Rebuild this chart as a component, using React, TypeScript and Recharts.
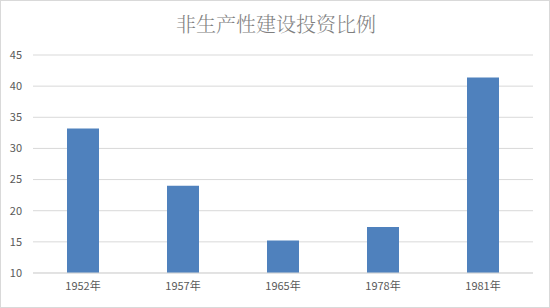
import React from "react";
import { BarChart, Bar, XAxis, YAxis, CartesianGrid } from "recharts";

const categories = ["1952年", "1957年", "1965年", "1978年", "1981年"];
const values = [33.2, 24.0, 15.2, 17.4, 41.4];
const yTicks = [10, 15, 20, 25, 30, 35, 40, 45];
const title = "非生产性建设投资比例";

const data = categories.map((c, i) => ({ name: c, value: values[i] }));

export default function App() {
  return (
    <div
      style={{
        position: "absolute",
        left: 0,
        top: 0,
        width: 550,
        height: 308,
        boxSizing: "border-box",
        border: "1px solid #d9d9d9",
        background: "#fff",
        fontFamily: "'Noto Sans CJK SC', 'Noto Sans', sans-serif",
      }}
    >
      <div
        style={{
          position: "absolute",
          left: 0,
          top: 9,
          width: 550,
          textAlign: "center",
          fontSize: 20,
          color: "#7f7f7f",
          fontWeight: 300,
          lineHeight: "28px",
          fontFamily: "'Noto Serif CJK SC', 'Noto Sans CJK SC', serif",
        }}
      >
        {title}
      </div>
      <div style={{ position: "absolute", left: -1, top: -1 }}>
        <BarChart
          width={550}
          height={308}
          data={data}
          margin={{ top: 55, right: 17, left: 0, bottom: 0 }}
          barCategoryGap="34%"
        >
          <CartesianGrid vertical={false} stroke="#d9d9d9" />
          <XAxis
            dataKey="name"
            height={35}
            tickLine={false}
            tickSize={0}
            tickMargin={9}
            axisLine={{ stroke: "#d9d9d9" }}
            tick={{ fill: "#595959", fontSize: 11 }}
            interval={0}
          />
          <YAxis
            width={33}
            domain={[10, 45]}
            ticks={yTicks}
            allowDataOverflow
            tickLine={false}
            axisLine={false}
            tickSize={0}
            tickMargin={11}
            tick={{ fill: "#595959", fontSize: 11 }}
          />
          <Bar dataKey="value" fill="#4f81bd" isAnimationActive={false} />
        </BarChart>
      </div>
    </div>
  );
}
